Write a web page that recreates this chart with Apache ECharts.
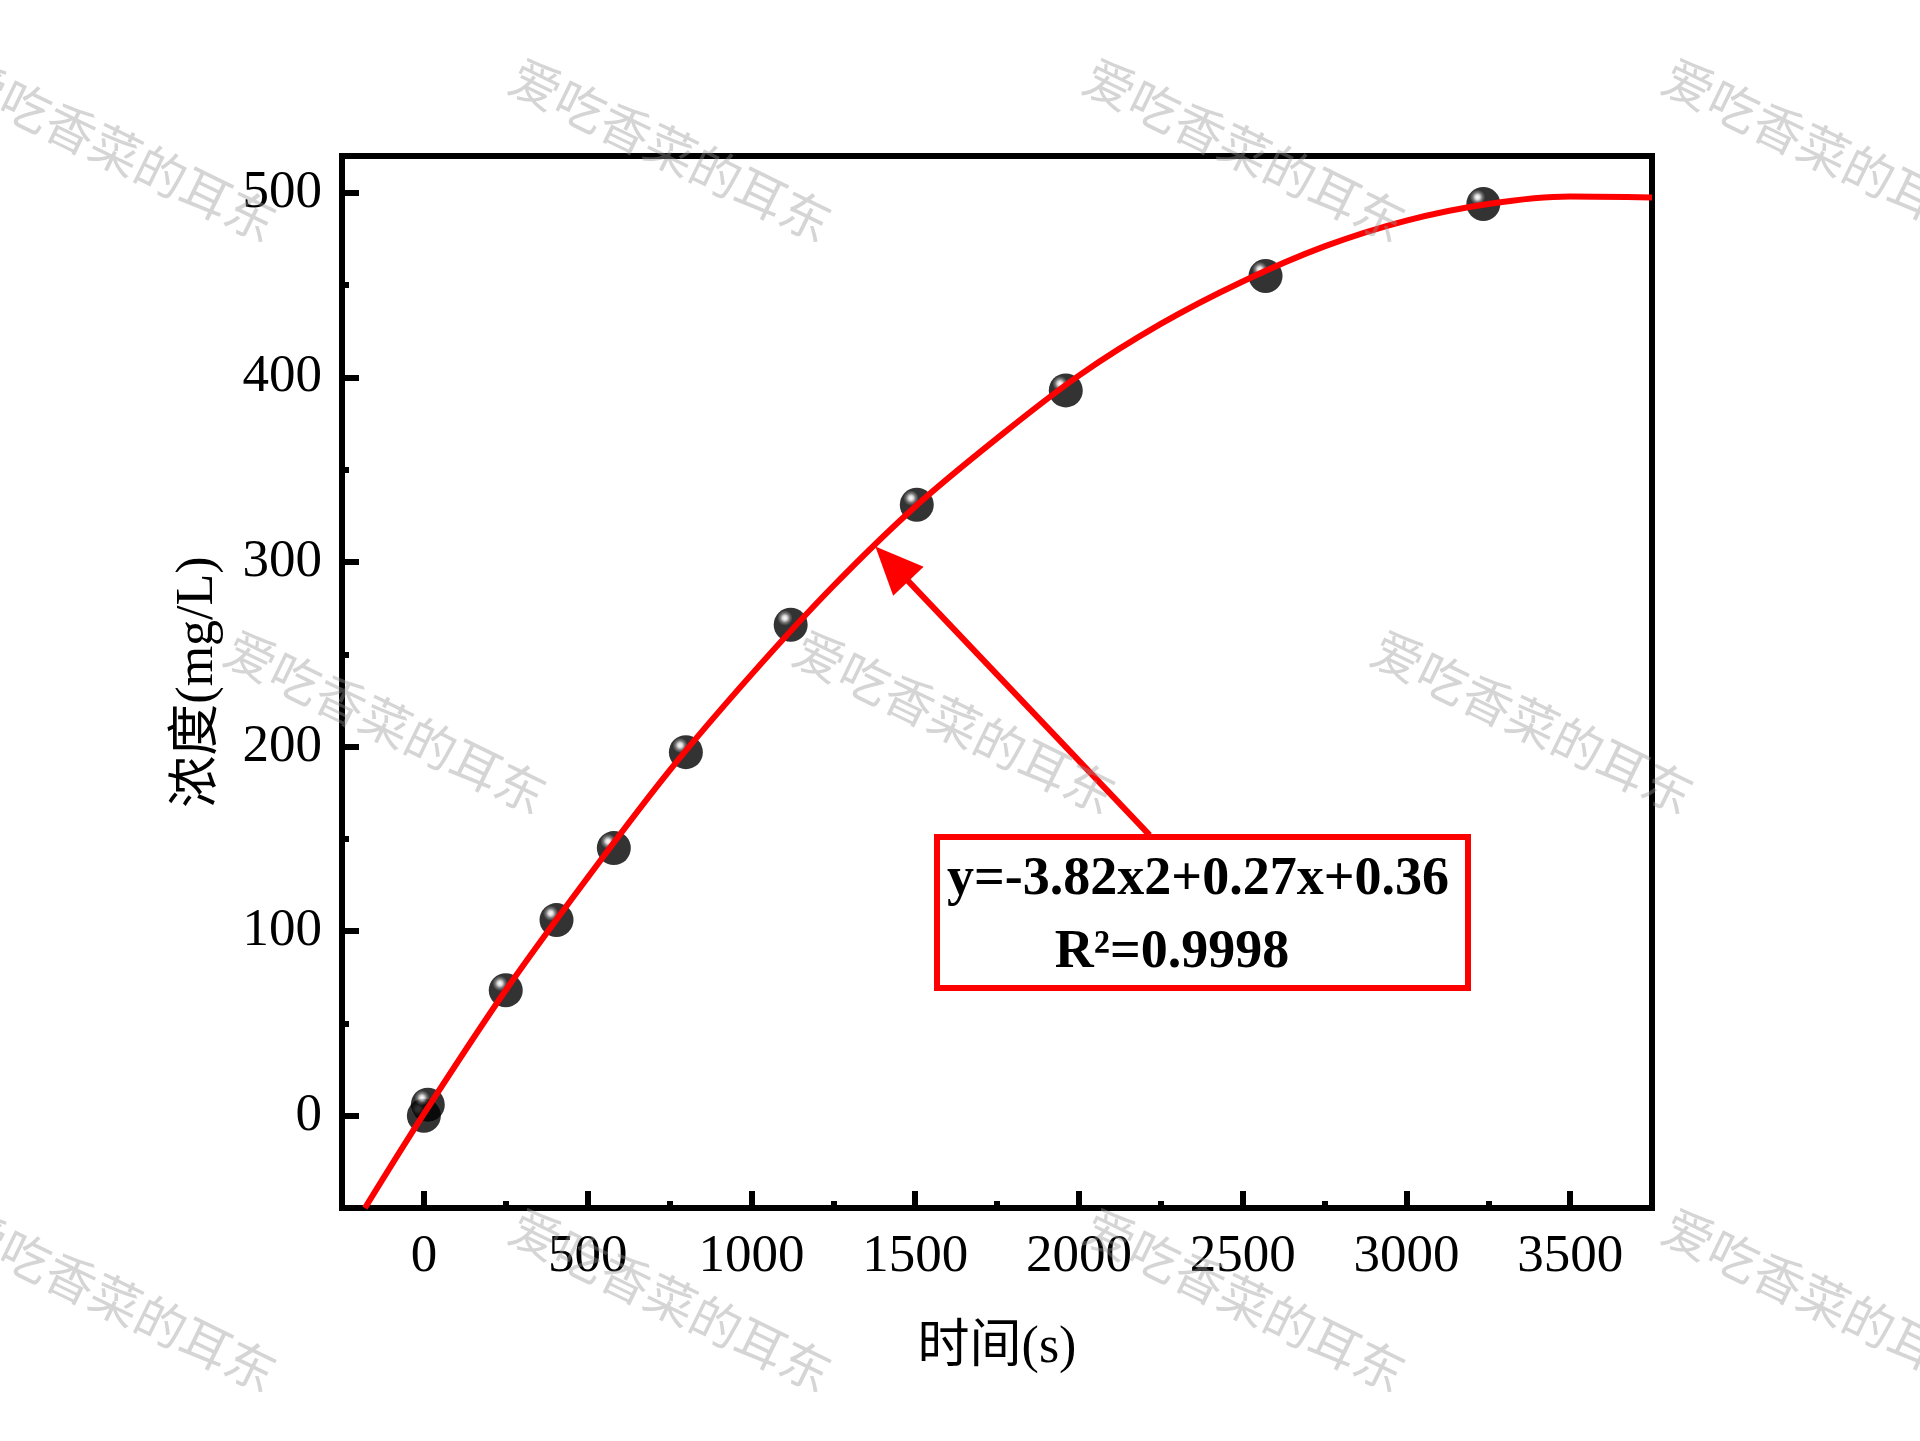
<!DOCTYPE html>
<html>
<head>
<meta charset="utf-8">
<title>浓度-时间</title>
<script src="https://cdn.jsdelivr.net/npm/echarts@6/dist/echarts.min.js"></script>
<style>
    html, body { margin: 0; padding: 0; background: #fff; }
    #chart { width: 1920px; height: 1441px; }
</style>
</head>
<body>
<div id="chart"></div>
<script>
// measured points
const timeS = [0, 12, 250, 405, 580, 800, 1120, 1505, 1960, 2570, 3235]
const conc = [0, 6, 68, 106, 145, 197, 266, 331, 393, 455, 494]

// fitted curve
const fitX = [-180, 0, 250, 500, 750, 1000, 1250, 1500, 1750, 2000, 2250, 2500, 2750, 3000, 3250, 3500, 3750]
const fitY = [-50, 1, 68, 129, 187, 239, 287, 330, 367, 401, 429, 452, 471, 485, 494, 498, 497.5]

// axis ticks
const xMajor = [0, 500, 1000, 1500, 2000, 2500, 3000, 3500]
const xMinor = [250, 750, 1250, 1750, 2250, 2750, 3250]
const yMajor = [0, 100, 200, 300, 400, 500]
const yMinor = [50, 150, 250, 350, 450]

// annotation arrow: tail at the box, head on the curve
const arrowFrom = [2216, 152]
const arrowTo = [1429, 299]

const eqText = "y=-3.82x2+0.27x+0.36"
const r2Text = "R²=0.9998"
const watermark = "爱吃香菜的耳东"

const serif = "'Liberation Serif', 'Times New Roman', 'Noto Sans CJK SC', serif"
const black = "#000"
const red = "#ff0000"

var myChart = echarts.init(document.getElementById("chart"))

function makeX(ticks, len, showLabel) {
    return {
        type: "value",
        position: "bottom",
        min: -250,
        max: 3750,
        axisLine: { show: showLabel, onZero: false, lineStyle: { color: black, width: 6 } },
        axisTick: { inside: true, length: len, customValues: ticks, lineStyle: { color: black, width: 6 } },
        axisLabel: {
            show: showLabel,
            customValues: ticks,
            formatter: (v) => String(v),
            color: black,
            fontSize: 53,
            fontFamily: serif,
            margin: 23,
        },
        splitLine: { show: false },
    }
}

function makeY(ticks, len, showLabel) {
    return {
        type: "value",
        position: "left",
        min: -50,
        max: 520,
        axisLine: { show: showLabel, onZero: false, lineStyle: { color: black, width: 6 } },
        axisTick: { inside: true, length: len, customValues: ticks, lineStyle: { color: black, width: 6 } },
        axisLabel: {
            show: showLabel,
            customValues: ticks,
            formatter: (v) => String(v),
            color: black,
            fontSize: 53,
            fontFamily: serif,
            margin: 20,
        },
        splitLine: { show: false },
    }
}

var xMain = makeX(xMajor, 17, true)
xMain.name = "时间(s)"
xMain.nameLocation = "middle"
xMain.nameGap = 114
xMain.nameTextStyle = { color: black, fontSize: 52, fontFamily: serif }

var yMain = makeY(yMajor, 17, true)
yMain.name = "浓度(mg/L)"
yMain.nameLocation = "middle"
yMain.nameGap = 118
yMain.nameTextStyle = { color: black, fontSize: 52, fontFamily: serif }

// watermark grid
var marks = []
var cols = [116, 671, 1245, 1824]
var rows = [150, 1300]
rows.forEach((y) => cols.forEach((x) => marks.push([x, y])))
;[386, 955, 1533].forEach((x) => marks.push([x, 722]))

var graphics = [
    {
        type: "rect",
        z: 10,
        shape: { x: 937, y: 837, width: 531, height: 151 },
        style: { fill: "#fff", stroke: red, lineWidth: 6 },
    },
    {
        type: "text",
        z: 11,
        x: 1198,
        y: 880,
        style: {
            text: eqText,
            font: "bold 54px " + serif,
            fill: black,
            align: "center",
            verticalAlign: "middle",
        },
    },
    {
        type: "text",
        z: 11,
        x: 1172,
        y: 953,
        style: {
            text: r2Text,
            font: "bold 54px " + serif,
            fill: black,
            align: "center",
            verticalAlign: "middle",
        },
    },
]
marks.forEach((p) => {
    graphics.push({
        type: "text",
        z: 100,
        x: p[0],
        y: p[1],
        rotation: (-26 * Math.PI) / 180,
        style: {
            text: watermark,
            font: "50px 'Noto Sans CJK SC'",
            fill: "rgba(150,150,150,0.4)",
            align: "center",
            verticalAlign: "middle",
        },
    })
})

myChart.setOption({
    animation: false,
    backgroundColor: "#fff",
    grid: {
        show: true,
        left: 342,
        right: 268,
        top: 156,
        bottom: 233,
        borderColor: black,
        borderWidth: 6,
    },
    xAxis: [xMain, makeX(xMinor, 7, false)],
    yAxis: [yMain, makeY(yMinor, 7, false)],
    series: [
        {
            name: "实验值",
            type: "scatter",
            xAxisIndex: 0,
            yAxisIndex: 0,
            symbolSize: 34,
            z: 2,
            itemStyle: {
                color: {
                    type: "radial",
                    x: 0.33,
                    y: 0.3,
                    r: 0.7,
                    colorStops: [
                        { offset: 0, color: "#ffffff" },
                        { offset: 0.1, color: "#d0d0d0" },
                        { offset: 0.2, color: "#555555" },
                        { offset: 0.32, color: "#000000" },
                        { offset: 1, color: "#000000" },
                    ],
                },
            },
            data: timeS.map((t, i) => [t, conc[i]]),
        },
        {
            name: "拟合",
            type: "line",
            xAxisIndex: 0,
            yAxisIndex: 0,
            smooth: 0.35,
            showSymbol: false,
            clip: true,
            z: 3,
            lineStyle: { color: red, width: 6 },
            data: fitX.map((t, i) => [t, fitY[i]]),
            markLine: {
                silent: true,
                symbol: ["none", "triangle"],
                symbolSize: [42, 48],
                label: { show: false },
                lineStyle: { color: red, width: 6, type: "solid" },
                itemStyle: { color: red },
                data: [[{ coord: arrowFrom }, { coord: arrowTo }]],
            },
        },
    ],
    graphic: graphics,
})
</script>
</body>
</html>
